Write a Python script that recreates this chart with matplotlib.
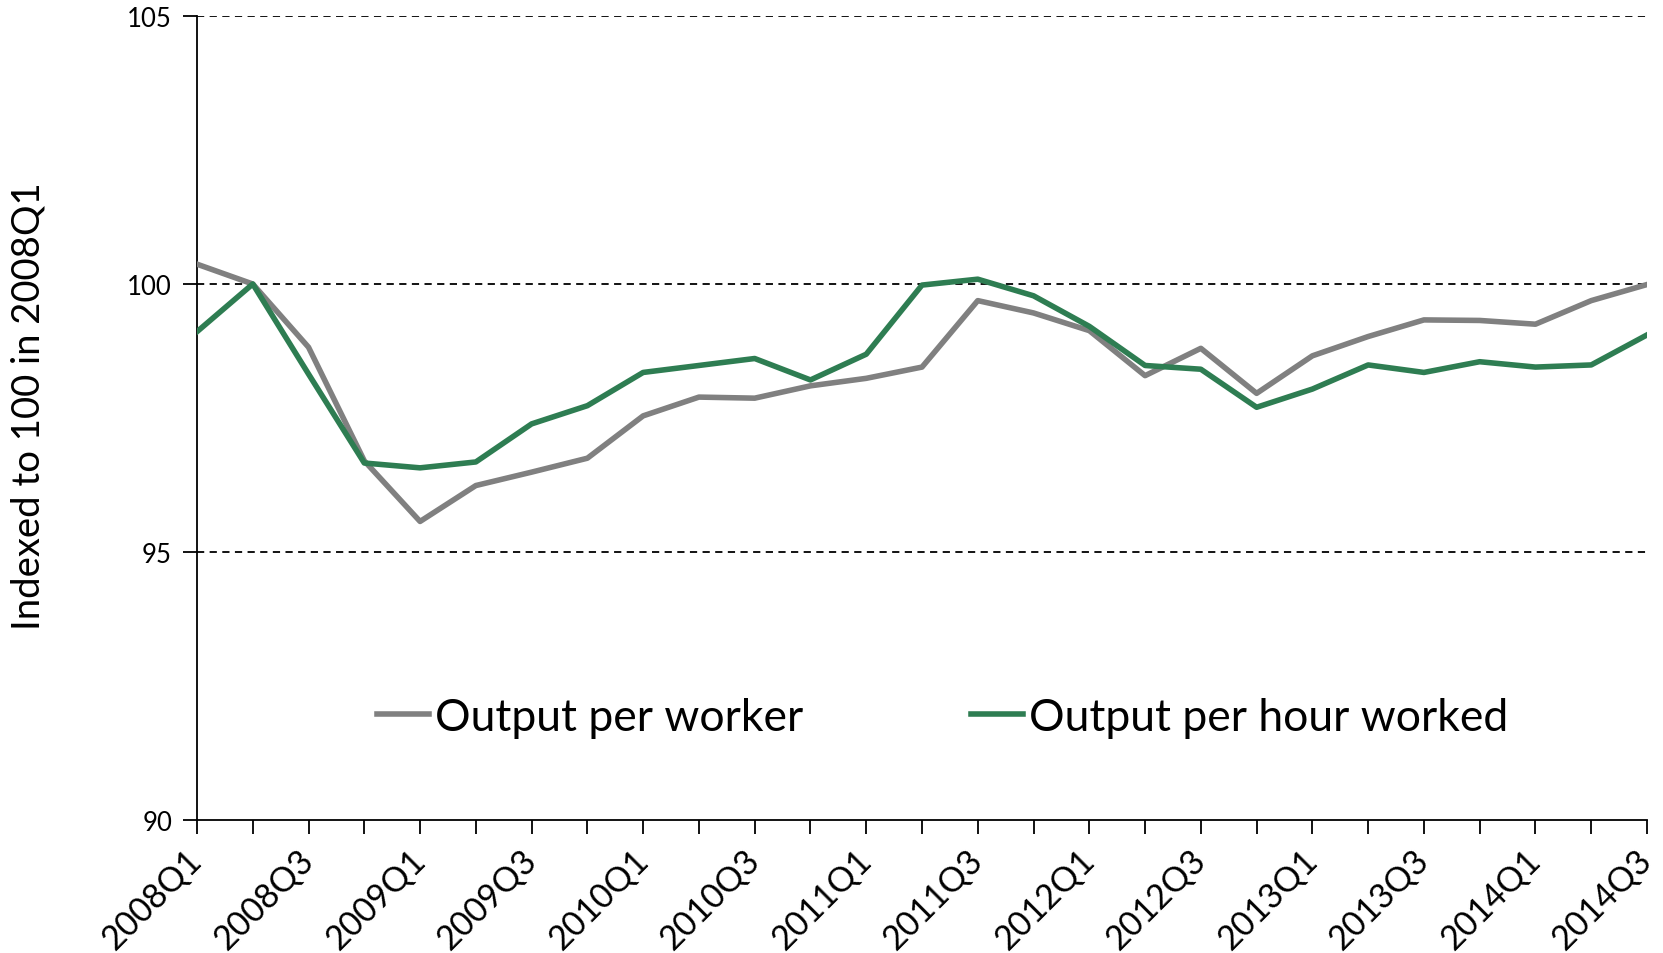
import matplotlib
matplotlib.use("Agg")
import matplotlib.pyplot as plt

plt.rcParams['font.family'] = ['Lato', 'DejaVu Sans']

quarters = [f"{y}Q{q}" for y in range(2008, 2015) for q in range(1, 5)][:27]
per_worker = [100.37, 100.0, 98.82, 96.70, 95.57, 96.24, 96.49, 96.75, 97.54,
              97.89, 97.87, 98.10, 98.24, 98.45, 99.69, 99.46, 99.13, 98.29,
              98.80, 97.96, 98.66, 99.02, 99.33, 99.32, 99.25, 99.69, 99.99]
per_hour = [99.11, 100.0, 98.32, 96.66, 96.57, 96.68, 97.39, 97.73, 98.35,
            98.48, 98.61, 98.21, 98.69, 99.98, 100.09, 99.78, 99.21, 98.48,
            98.41, 97.70, 98.04, 98.49, 98.35, 98.55, 98.45, 98.49, 99.05]
yticks = [90, 95, 100, 105]
series_names = ["Output per worker", "Output per hour worked"]

fig = plt.figure(figsize=(16.63, 9.54), dpi=100)
ax = fig.add_axes([197/1663, 1 - 821/954, 1450/1663, 804/954])

x = list(range(len(quarters)))
for yv in [95, 100, 105]:
    ax.axhline(yv, color='black', lw=1.3, ls=(0, (4, 3)), zorder=1)
ax.plot(x, per_worker, color='#808080', lw=4, label=series_names[0], zorder=3)
ax.plot(x, per_hour, color='#2e7d52', lw=4, label=series_names[1], zorder=4)

ax.set_xlim(0, len(quarters) - 1)
ax.set_ylim(90, 105)
ax.set_yticks(yticks)
ax.set_yticklabels([str(v) for v in yticks], fontsize=18.5)
ax.set_xticks(x)
ax.set_xticklabels([q if i % 2 == 0 else "" for i, q in enumerate(quarters)],
                   rotation=45, ha='right', va='center', rotation_mode='anchor', fontsize=24.5)
ax.tick_params(axis='x', length=10, width=1.3, direction='out', pad=15)
ax.tick_params(axis='y', length=10, width=1.3, direction='out', pad=8)
for s in ['top', 'right']:
    ax.spines[s].set_visible(False)
for s in ['left', 'bottom']:
    ax.spines[s].set_linewidth(1.3)
ax.set_ylabel("Indexed to 100 in 2008Q1", fontsize=27.5)
ax.yaxis.set_label_coords(-0.104, 0.516)

leg = ax.legend(loc='center', bbox_to_anchor=(0.514, 0.128), ncol=2, frameon=False,
                fontsize=32, handlelength=1.19, handletextpad=0.12, columnspacing=3.77)

fig.savefig("out.png", dpi=100)
